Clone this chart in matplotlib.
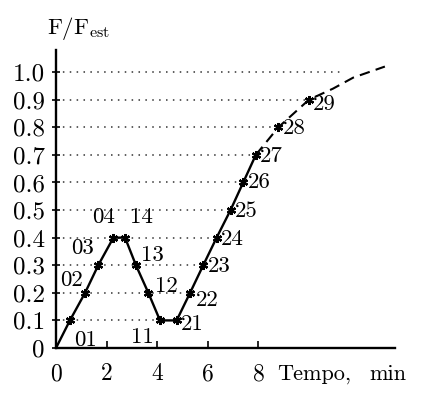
import matplotlib
matplotlib.use("Agg")
import matplotlib.pyplot as plt
import numpy as np

plt.rcParams['font.family'] = ['cmr10', 'DejaVu Serif']
plt.rcParams['mathtext.fontset'] = 'cm'
plt.rcParams['axes.formatter.use_mathtext'] = True

# data
labels = ["", "01", "02", "03", "04", "14", "13", "12", "11", "21", "22",
          "23", "24", "25", "26", "27", "28", "29"]
t = [0.0, 0.55, 1.15, 1.67, 2.27, 2.73, 3.16, 3.65, 4.11, 4.77, 5.30,
     5.82, 6.35, 6.90, 7.40, 7.90, 8.79, 10.0]
f = [0.0, 0.1, 0.2, 0.3, 0.4, 0.4, 0.3, 0.2, 0.1, 0.1, 0.2,
     0.3, 0.4, 0.5, 0.6, 0.7, 0.8, 0.9]
ext_t = [10.0, 10.95, 11.75, 13.0]
ext_f = [0.9, 0.94, 0.98, 1.02]
levels = [0.1, 0.2, 0.3, 0.4, 0.5, 0.6, 0.7, 0.8, 0.9, 1.0]
level_end = [4.11, 5.30, 5.82, 6.35, 6.90, 7.40, 7.90, 8.79, 10.0, 11.4]
yticks = [0, 0.1, 0.2, 0.3, 0.4, 0.5, 0.6, 0.7, 0.8, 0.9, 1.0]
ytick_labels = ["0", "0.1", "0.2", "0.3", "0.4", "0.5", "0.6", "0.7", "0.8", "0.9", "1.0"]
xticks = [0, 2, 4, 6, 8]
xtick_labels = ["0", "2", "4", "6", "8"]

# label offsets in points (dx, dy, ha)
offsets = {
    "01": (11, -14, 'center'), "02": (-10, 9, 'center'), "03": (-11, 12, 'center'),
    "04": (-7, 15, 'center'), "14": (12, 15, 'center'), "13": (4, 7, 'left'),
    "12": (5, 5, 'left'), "11": (-13, -12, 'center'), "21": (3, -3, 'left'),
    "22": (4, -5, 'left'), "23": (3, -1, 'left'), "24": (3, -1, 'left'),
    "25": (3, -1, 'left'), "26": (3, 0, 'left'), "27": (3, -1, 'left'),
    "28": (3, -1, 'left'), "29": (3, -3, 'left'),
}

fig = plt.figure(figsize=(4.25, 3.94), dpi=100)
ax = fig.add_axes([56/425, 1 - 348/394, (395 - 56)/425, (348 - 50)/394])
ax.set_xlim(0, 13.4)
ax.set_ylim(0, 1.08)

for lv, le in zip(levels, level_end):
    ax.plot([0, le], [lv, lv], linestyle=(0, (1, 3.5)), color='#333333', lw=1.1)

ax.plot(t[:16], f[:16], color='black', lw=1.7)
ax.plot(t[15:] + ext_t[1:], f[15:] + ext_f[1:], color='black', lw=1.5,
        linestyle=(0, (5, 3)))
ax.plot(t[1:], f[1:], linestyle='none', marker=(6, 2, 0), markersize=6.5,
        color='black', markeredgewidth=1.6)

for lab, x, y in zip(labels, t, f):
    if not lab:
        continue
    dx, dy, ha = offsets[lab]
    ax.annotate(lab, (x, y), xytext=(dx, dy), textcoords='offset points',
                ha=ha, va='center', fontsize=16.5)

for s in ['top', 'right']:
    ax.spines[s].set_visible(False)
for s in ['left', 'bottom']:
    ax.spines[s].set_linewidth(1.7)

ax.set_yticks(yticks)
ax.set_yticklabels(ytick_labels)
ax.set_xticks(xticks)
ax.set_xticklabels(xtick_labels)
ax.tick_params(axis='y', direction='inout', length=6, width=1.2, labelsize=18, pad=5)
ax.tick_params(axis='x', direction='in', length=5, width=1.2, labelsize=17, pad=11)

ax.text(8.75, -0.095, "Tempo,", fontsize=16, ha='left', va='center')
ax.text(12.4, -0.095, "min", fontsize=16, ha='left', va='center')
fig.text(47/425, 1 - 28/394, r"$\mathrm{F/F_{est}}$", fontsize=16.5, ha='left', va='center')

fig.savefig("out.png", dpi=100)
